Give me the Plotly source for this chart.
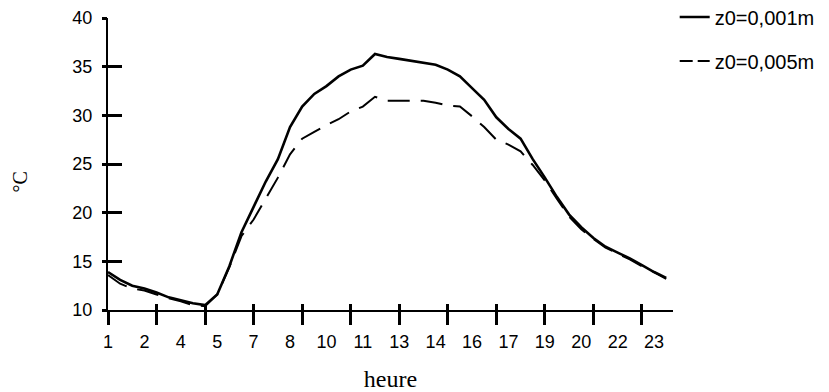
import numpy as np
import plotly.graph_objects as go

# Half-hourly time steps, 1 h to 24 h
hours = [1 + 0.5 * i for i in range(47)]

# Surface temperature (°C) for two roughness lengths
temp_z0_001 = [13.9, 13.1, 12.5, 12.2, 11.8, 11.3, 11.0, 10.7, 10.5, 11.6,
               14.5, 18.0, 20.6, 23.2, 25.5, 28.8, 30.9, 32.2, 33.0, 34.0,
               34.7, 35.1, 36.3, 36.0, 35.8, 35.6, 35.4, 35.2, 34.7, 34.0,
               32.8, 31.6, 29.8, 28.6, 27.6, 25.5, 23.6, 21.6, 19.8, 18.5,
               17.4, 16.5, 15.9, 15.3, 14.6, 13.9, 13.3]
temp_z0_005 = [13.6, 12.7, 12.2, 12.0, 11.6, 11.2, 10.9, 10.5, 10.4, 11.6,
               14.4, 17.6, 19.3, 21.5, 23.6, 26.0, 27.6, 28.3, 29.0, 29.6,
               30.4, 30.9, 31.9, 31.5, 31.5, 31.5, 31.5, 31.3, 31.0, 30.9,
               29.9, 28.8, 27.5, 27.0, 26.3, 24.9, 23.3, 21.4, 19.6, 18.3,
               17.3, 16.4, 15.8, 15.2, 14.5, 13.9, 13.2]

# Axis ticks: marks every 2 h, labels every 1.5 h (shown truncated to the hour)
x_tick_marks = list(range(1, 24, 2))
x_label_pos = [1 + 1.5 * i for i in range(16)]
x_label_text = [str(int(v)) for v in x_label_pos]
y_ticks = [10, 15, 20, 25, 30, 35, 40]

X_RANGE = [1, 24.28]
Y_RANGE = [10, 40]

tick_font = dict(family="Liberation Sans, Arial, sans-serif", size=18, color="black")
serif = "Liberation Serif, Times New Roman, serif"

fig = go.Figure()
fig.add_trace(go.Scatter(
    x=hours, y=temp_z0_001, mode="lines", name="z0=0,001m",
    line=dict(color="black", width=2.6), legendgroup="a",
))
fig.add_trace(go.Scatter(
    x=hours, y=temp_z0_005, mode="lines", name="z0=0,005m",
    line=dict(color="black", width=2, dash="22px,11px"), legendgroup="b",
    showlegend=False,
))
# Legend proxy with a shorter dash so the short key sample shows two dashes
fig.add_trace(go.Scatter(
    x=[None], y=[None], mode="lines", name="z0=0,005m",
    line=dict(color="black", width=2, dash="13px,5px"), legendgroup="b",
    hoverinfo="skip",
))

# Invisible anchors so the overlaid tick/label axes get drawn
for xa, ya in [("x2", "y"), ("x3", "y"), ("x", "y2")]:
    fig.add_trace(go.Scatter(
        x=X_RANGE, y=Y_RANGE, mode="markers", marker=dict(opacity=0),
        hoverinfo="skip", showlegend=False, xaxis=xa, yaxis=ya,
    ))

fig.update_layout(
    width=829, height=392,
    margin=dict(l=108, r=156, t=18, b=82, autoexpand=False),
    paper_bgcolor="white", plot_bgcolor="white",
    showlegend=True,
    legend=dict(
        x=1.003, y=1.07, xanchor="left", yanchor="top",
        font=dict(family="Liberation Sans, Arial, sans-serif", size=20, color="black"),
        tracegroupgap=15, traceorder="grouped",
        bgcolor="rgba(0,0,0,0)",
    ),
    xaxis=dict(
        range=X_RANGE, showgrid=False, zeroline=False,
        showline=True, linecolor="black", linewidth=2,
        ticks="outside", ticklen=13, tickwidth=2.5, tickcolor="black",
        tickvals=x_tick_marks, showticklabels=False,
    ),
    xaxis3=dict(
        range=X_RANGE, overlaying="x", anchor="y", showgrid=False, zeroline=False,
        showline=False, ticks="inside", ticklen=6, tickwidth=2.5, tickcolor="black",
        tickvals=x_tick_marks, showticklabels=False,
    ),
    xaxis2=dict(
        range=X_RANGE, overlaying="x", anchor="y", side="bottom",
        showgrid=False, zeroline=False,
        showline=False, ticks="", tickvals=x_label_pos, ticktext=x_label_text,
        tickfont=tick_font, ticklabelstandoff=19,
        title=dict(text="heure", font=dict(family=serif, size=24, color="black"),
                   standoff=21),
    ),
    yaxis=dict(
        range=Y_RANGE, showgrid=False, zeroline=False,
        showline=True, linecolor="black", linewidth=2,
        ticks="inside", ticklen=14, tickwidth=2.5, tickcolor="black",
        tickvals=y_ticks, tickfont=tick_font, ticklabelstandoff=10,
    ),
    yaxis2=dict(
        range=Y_RANGE, overlaying="y", anchor="x", side="left",
        showgrid=False, zeroline=False,
        showline=False, ticks="outside", ticklen=5, tickwidth=2.5, tickcolor="black",
        tickvals=y_ticks, showticklabels=False,
    ),
    annotations=[dict(
        text="°C", xref="paper", yref="paper", x=-0.156, y=0.44,
        xanchor="center", yanchor="middle",
        showarrow=False, textangle=-90,
        font=dict(family=serif, size=20, color="black"),
    )],
)

fig.write_html("out.html")
